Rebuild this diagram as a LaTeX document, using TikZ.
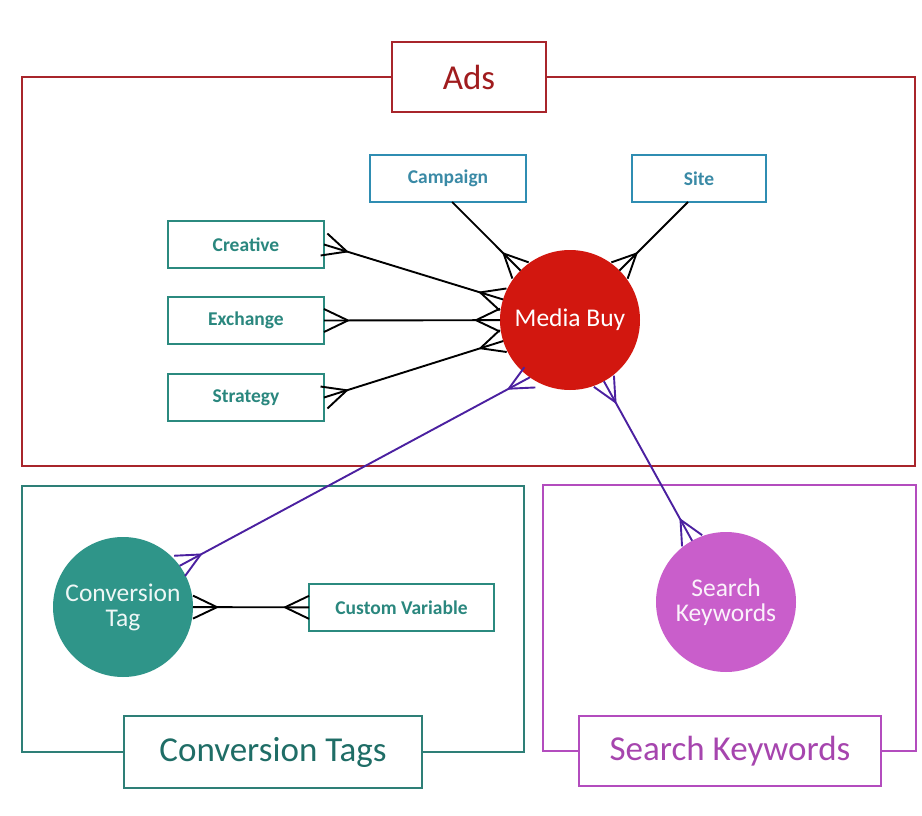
\documentclass[tikz,border=0pt]{standalone}
\usepackage{fontspec}
\setmainfont{Carlito}
\usetikzlibrary{calc}
\definecolor{adsred}{HTML}{A8252B}
\definecolor{adstext}{HTML}{A01C1E}
\definecolor{tealbox}{HTML}{2B8A7F}
\definecolor{tealtext}{HTML}{2A877E}
\definecolor{bluebox}{HTML}{2F8DB2}
\definecolor{bluetext}{HTML}{3A8AA6}
\definecolor{ctframe}{HTML}{2E7F77}
\definecolor{cttext}{HTML}{1F6D66}
\definecolor{skframe}{HTML}{B34CBE}
\definecolor{sktext}{HTML}{A645AE}
\definecolor{mbfill}{HTML}{D2170F}
\definecolor{ctfill}{HTML}{2F9589}
\definecolor{skfill}{HTML}{C95ECB}
\definecolor{purplelink}{HTML}{4B20A0}
% many-to-many: crow's feet at both ends
\newcommand\erlink[3]{%
  \draw[link,#1] (#2) -- (#3) coordinate[pos=0] (lkS) coordinate[pos=1] (lkE);
  \draw[link,#1] ($(lkS)!11.5pt!90:(lkE)$) -- ($(lkS)!24pt!(lkE)$) -- ($(lkS)!11.5pt!-90:(lkE)$);
  \draw[link,#1] ($(lkE)!11.5pt!90:(lkS)$) -- ($(lkE)!24pt!(lkS)$) -- ($(lkE)!11.5pt!-90:(lkS)$);
}
% one-to-many: crow's foot at the second node only
\newcommand\erlinkone[3]{%
  \draw[link,#1] (#2) -- (#3) coordinate[pos=0] (lkS) coordinate[pos=1] (lkE);
  \draw[link,#1] ($(lkE)!11.5pt!90:(lkS)$) -- ($(lkE)!24pt!(lkS)$) -- ($(lkE)!11.5pt!-90:(lkS)$);
}
\begin{document}
\begin{tikzpicture}[x=1pt,y=-1pt,
  link/.style={line width=1.9pt,line join=round,black},
  frame/.style={line width=2pt},
  biglabel/.style={draw,fill=white,line width=2pt,inner sep=0pt,outer sep=0pt,font=\fontsize{35}{40}\selectfont},
  entbox/.style={draw=tealbox,fill=white,line width=2.4pt,inner sep=0pt,outer sep=0pt,minimum height=47pt,minimum width=156pt,text=tealtext,font=\bfseries\fontsize{19.5}{22}\selectfont},
  bluebx/.style={entbox,draw=bluebox,text=bluetext},
  ent/.style={circle,inner sep=0pt,outer sep=0pt,minimum size=140pt,align=center,font=\fontsize{25.5}{25}\selectfont}
]
\useasboundingbox (0,0) rectangle (922,816);
\fill[white] (0,0) rectangle (922,816);

% frames
\node[biglabel,draw=adsred,text=adstext,minimum width=154pt,minimum height=70pt] (adsl) at (469,77) {Ads};
\draw[frame,adsred] (adsl.west) -- (22,77) -- (22,466) -- (915,466) -- (915,77) -- (adsl.east);

\node[biglabel,draw=ctframe,text=cttext,minimum width=298pt,minimum height=72pt] (ctl) at (273,752) {Conversion Tags};
\draw[frame,ctframe] (ctl.west) -- (22,752) -- (22,486) -- (524,486) -- (524,752) -- (ctl.east);

\node[biglabel,draw=skframe,text=sktext,minimum width=302pt,minimum height=70pt] (skl) at (730,751) {Search Keywords};
\draw[frame,skframe] (skl.west) -- (543,751) -- (543,485) -- (916,485) -- (916,751) -- (skl.east);

% entities
\node[bluebx] (cam) at (448,178.5) {Campaign};
\node[bluebx,minimum width=134pt] (site) at (699,178.5) {Site};
\node[entbox] (cre) at (246,244.5) {Creative};
\node[entbox] (exc) at (246,320.5) {Exchange};
\node[entbox] (str) at (246,397.5) {Strategy};
\node[entbox,minimum width=185pt] (cv) at (401.5,607.5) {Custom Variable};

\node[ent,fill=mbfill,text=white] (mb) at (570,320) {Media Buy};
\node[ent,fill=ctfill,text=white!92!ctfill] (ct) at (123,607) {Conversion\\Tag};
\node[ent,fill=skfill,text=white!92!skfill] (sk) at (726,602) {Search\\Keywords};

% connectors
\erlinkone{}{cam.280}{mb}
\erlinkone{}{site.245}{mb}
\erlink{}{cre.east}{mb}
\erlink{}{exc.east}{mb}
\erlink{}{str.east}{mb}
\erlink{}{ct}{cv}
\erlink{purplelink}{mb.235}{ct.36}
\erlink{purplelink}{mb}{sk}
\end{tikzpicture}
\end{document}
